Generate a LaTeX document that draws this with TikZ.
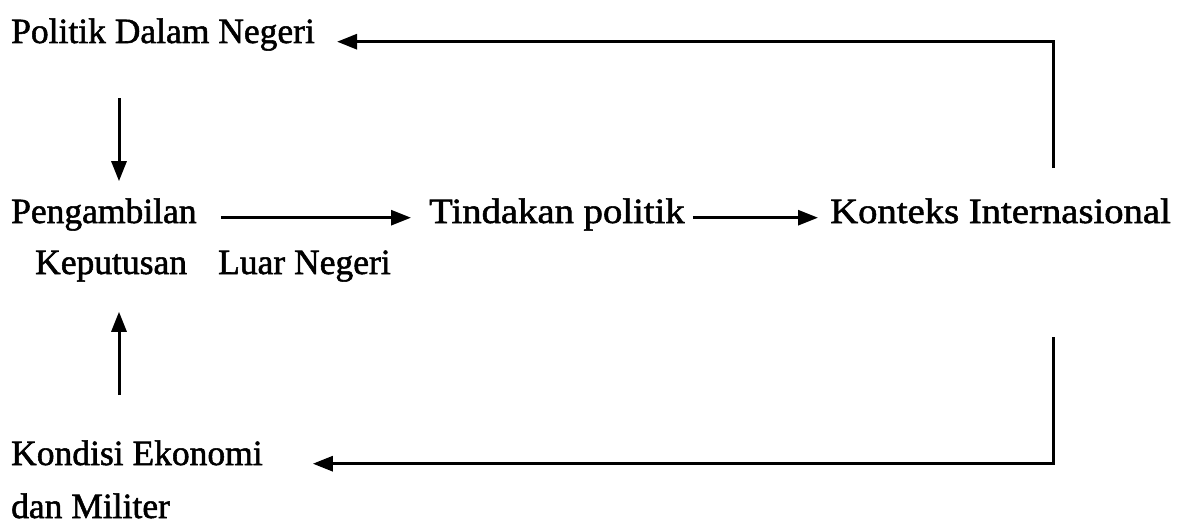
\documentclass[tikz,border=0pt]{standalone}
\usepackage{fontspec}
\setmainfont[FakeBold=1.5]{Liberation Serif}
\newfontfamily\basefont[FakeBold=1.5]{Liberation Serif}
\newfontfamily\widefont[FakeStretch=1.09,FakeBold=1.5]{Liberation Serif}
\usetikzlibrary{arrows.meta,calc}
\begin{document}
\begin{tikzpicture}[x=1pt,y=-1pt,
  lbl/.style={anchor=base west, inner sep=0pt, font=\fontsize{35.5}{40}\basefont},
  wlbl/.style={lbl, font=\fontsize{35.5}{40}\widefont},
  arr/.style={line width=3pt, -{Triangle[length=20pt,width=15pt]}}]
\useasboundingbox (0,0) rectangle (1178,527);
\node[lbl] (pdn)  at (11,43)  {Politik Dalam Negeri};
\node[lbl] (peng) at (11,223) {Pengambilan};
\node[lbl] (kep)  at (35,274) {Keputusan};
\node[lbl] (luar) at (218,274) {Luar Negeri};
\node[wlbl] (tind) at (429,223) {Tindakan politik};
\node[wlbl] (kont) at (830,223) {Konteks Internasional};
\node[lbl] (kond) at (11,465) {Kondisi Ekonomi};
\node[lbl] (dan)  at (11,518) {dan Militer};
\coordinate (tr) at (1053,168);
\coordinate (br) at (1053,337);
\coordinate (d1) at (119,98);
\coordinate (u1) at (119,395);
\draw[arr] (tr) |- ([xshift=22pt,yshift=-1pt]pdn.mid east);
\draw[arr] (d1) -- ($(d1 |- peng.north)+(0,-17)$);
\draw[arr] ([xshift=24pt,yshift=3pt]peng.mid east) -- ([xshift=-18pt,yshift=3pt]tind.mid west);
\draw[arr] ([xshift=8pt,yshift=3pt]tind.mid east) -- ([xshift=-12pt,yshift=3pt]kont.mid west);
\draw[arr] (u1) -- ($(u1 |- kep.south)+(0,30)$);
\draw[arr] (br) |- ([xshift=50pt,yshift=-1pt]kond.mid east);
\end{tikzpicture}
\end{document}
